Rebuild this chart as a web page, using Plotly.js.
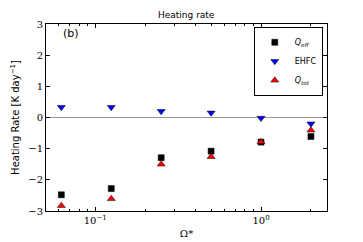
<!DOCTYPE html>
<html><head><meta charset="utf-8">
<script src="https://cdn.plot.ly/plotly-3.0.1.min.js"></script>
<style>html,body{margin:0;padding:0;background:#fff}</style>
</head><body>
<div id="chart" style="width:363px;height:242px"></div>
<script>
var omega = [0.0625, 0.125, 0.25, 0.5, 1, 2];
var qEff = [-2.48, -2.28, -1.29, -1.08, -0.79, -0.61];
var ehfc = [0.33, 0.33, 0.20, 0.15, -0.02, -0.20];
var qTot = [-2.83, -2.61, -1.50, -1.26, -0.78, -0.41];
var yTicks = [-3, -2, -1, 0, 1, 2, 3];
var yTickText = ['\u22123', '\u22122', '\u22121', '0', '1', '2', '3'];

var traces = [
  {x: omega, y: qEff, mode: 'markers', name: '<i>Q<sub>eff</sub></i>',
   marker: {symbol: 'square', size: 6, color: '#000000', line: {color: '#000', width: 0.5}}},
  {x: omega, y: ehfc, mode: 'markers', name: 'EHFC',
   marker: {symbol: 'triangle-down', size: 7, color: '#0000ff', line: {color: '#000', width: 0.5}}},
  {x: omega, y: qTot, mode: 'markers', name: '<i>Q<sub>tot</sub></i>',
   marker: {symbol: 'triangle-up', size: 7, color: '#ff0000', line: {color: '#000', width: 0.5}}}
];

var layout = {
  width: 363, height: 242,
  margin: {l: 46, r: 36, t: 24, b: 31},
  paper_bgcolor: '#fff', plot_bgcolor: '#fff',
  showlegend: true,
  title: {text: 'Heating rate', font: {family: 'DejaVu Sans', size: 9, color: '#000'}, x: 0.513, xanchor: 'center', y: 0.94, yanchor: 'middle'},
  xaxis: {type: 'log', range: [Math.log10(0.0505), Math.log10(2.5)],
    tickvals: [0.1, 1], ticktext: ['10<sup>\u22121</sup>', '10<sup>0</sup>'],
    ticks: 'inside', ticklen: 4, tickcolor: '#000', mirror: 'ticks',
    showline: true, linecolor: '#000', linewidth: 1, showgrid: false, zeroline: false,
    tickfont: {family: 'DejaVu Serif', size: 10, color: '#000'},
    minor: {tickvals: [0.06,0.07,0.08,0.09,0.2,0.3,0.4,0.5,0.6,0.7,0.8,0.9,2], ticks: 'inside', ticklen: 2, tickcolor: '#000', showgrid: false},
    title: {text: '\u03a9*', font: {family: 'DejaVu Serif', size: 10, color: '#000'}, standoff: 4}},
  yaxis: {range: [-3, 3], tickvals: yTicks, ticktext: yTickText,
    ticks: 'inside', ticklen: 4, tickcolor: '#000', mirror: 'ticks',
    showline: true, linecolor: '#000', linewidth: 1, showgrid: false,
    zeroline: true, zerolinecolor: '#999', zerolinewidth: 1,
    tickfont: {family: 'DejaVu Serif', size: 10, color: '#000'},
    title: {text: 'Heating Rate [K day<sup>\u22121</sup>]', font: {family: 'DejaVu Sans', size: 10, color: '#000'}, standoff: 6}},
  legend: {x: 0.985, xanchor: 'right', y: 0.985, yanchor: 'top', bgcolor: '#fff',
    bordercolor: '#000', borderwidth: 1, font: {family: 'DejaVu Sans', size: 8, color: '#000'},
    itemwidth: 30, tracegroupgap: 0},
  annotations: [{text: '(b)', xref: 'paper', yref: 'paper', x: 0.055, y: 0.95, xanchor: 'left', yanchor: 'middle',
    showarrow: false, font: {family: 'DejaVu Sans', size: 11, color: '#000'}}]
};
Plotly.newPlot('chart', traces, layout, {displayModeBar: false, staticPlot: true});
</script>
</body></html>
